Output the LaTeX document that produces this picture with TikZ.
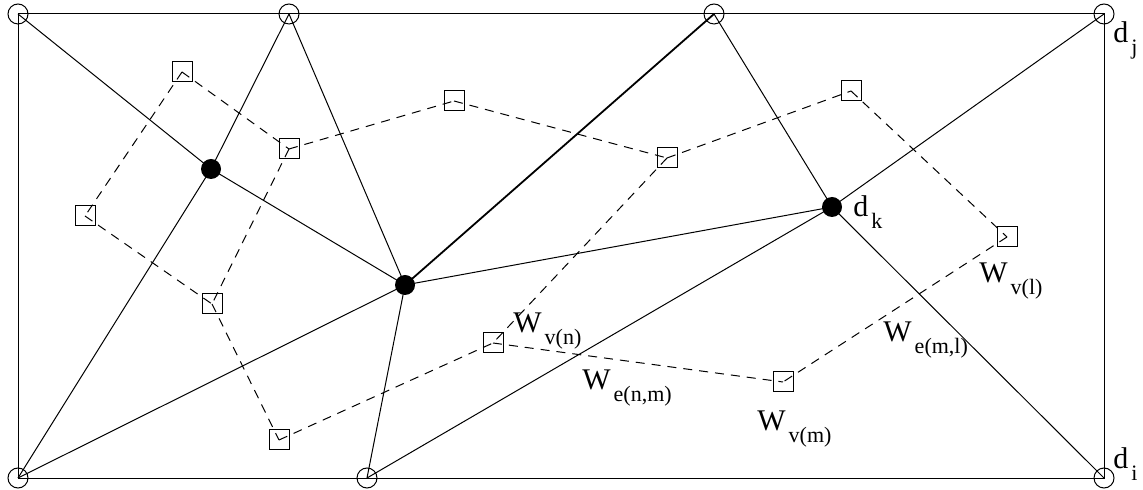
\documentclass[tikz,border=0pt]{standalone}
\usepackage{fontspec}
\setmainfont{Liberation Serif}
\usepackage{tikz}
\usetikzlibrary{positioning}
\newcommand{\lowsub}[1]{\hspace{1.5pt}\raisebox{-6pt}{\fontsize{11pt}{11pt}\selectfont #1}}
\tikzset{
  bnd/.style={draw, circle, minimum size=10pt, inner sep=0pt, line width=0.5pt},
  inner/.style={fill=black, circle, minimum size=10pt, inner sep=0pt},
  dual/.style={draw, rectangle, minimum size=10pt, inner sep=0pt, line width=0.5pt},
  edge/.style={line width=0.5pt},
  dedge/.style={line width=0.5pt, dash pattern=on 4.5pt off 3.5pt},
  lbl/.style={anchor=base west, inner sep=0pt, font=\fontsize{15pt}{15pt}\selectfont},
}
\begin{document}
\begin{tikzpicture}[x=0.5pt, y=-0.5pt]
  \useasboundingbox (0,0) rectangle (1143,490);
  % boundary vertices
  \node[bnd] (tl) at (18,14) {};
  \node[bnd] (t1) at (289,14) {};
  \node[bnd] (t2) at (714,14) {};
  \node[bnd] (tr) at (1104,14) {};
  \node[bnd] (bl) at (18,478) {};
  \node[bnd] (bm) at (367,478) {};
  \node[bnd] (br) at (1104,478) {};
  % interior vertices
  \node[inner] (na) at (211,169) {};
  \node[inner] (nb) at (405,285) {};
  \node[inner] (nc) at (832,207) {};
  % triangle weights
  \node[dual] (w1) at (182,72) {};
  \node[dual] (w2) at (289,149) {};
  \node[dual] (w3) at (454,101) {};
  \node[dual] (w4) at (667,158) {};
  \node[dual] (w5) at (851,91) {};
  \node[dual] (w6) at (1007,237) {};
  \node[dual] (w7) at (85,216) {};
  \node[dual] (w8) at (212,304) {};
  \node[dual] (w9) at (279,440) {};
  \node[dual] (w10) at (493,343) {};
  \node[dual] (w11) at (783,382) {};
  % domain border
  \draw[edge] (tl.center) -- (tr.center) -- (br.center) -- (bl.center) -- cycle;
  % triangulation
  \draw[edge] (tl.center) -- (na.center);
  \draw[edge] (t1.center) -- (na.center);
  \draw[edge] (na.center) -- (bl.center);
  \draw[edge] (na.center) -- (nb.center);
  \draw[edge] (t1.center) -- (nb.center);
  \draw[line width=0.9pt] (t2.center) -- (nb.center);
  \draw[edge] (t2.center) -- (nc.center);
  \draw[edge] (nb.center) -- (nc.center);
  \draw[edge] (nb.center) -- (bl.center);
  \draw[edge] (nb.center) -- (bm.center);
  \draw[edge] (bm.center) -- (nc.center);
  \draw[edge] (nc.center) -- (tr.center);
  \draw[edge] (nc.center) -- (br.center);
  % dual graph
  \draw[dedge] (w1.center) -- (w2.center);
  \draw[dedge] (w1.center) -- (w7.center);
  \draw[dedge] (w2.center) -- (w3.center);
  \draw[dedge] (w2.center) -- (w8.center);
  \draw[dedge] (w3.center) -- (w4.center);
  \draw[dedge] (w4.center) -- (w5.center);
  \draw[dedge] (w4.center) -- (w10.center);
  \draw[dedge] (w5.center) -- (w6.center);
  \draw[dedge] (w6.center) -- (w11.center);
  \draw[dedge] (w7.center) -- (w8.center);
  \draw[dedge] (w8.center) -- (w9.center);
  \draw[dedge] (w9.center) -- (w10.center);
  \draw[dedge] (w10.center) -- (w11.center);
  % labels
  \node[lbl] (ldj) at (1113,43) {d\lowsub{j}};
  \node[lbl] (ldk) at (853,217) {d\lowsub{k}};
  \node[lbl] (ldi) at (1113,468) {d\lowsub{i}};
  \node[lbl] (lvn) at (513,333) {W\lowsub{v(n)}};
  \node[lbl] (lenm) at (582,390) {W\lowsub{e(n,m)}};
  \node[lbl] (lvm) at (757,430) {W\lowsub{v(m)}};
  \node[lbl] (lvl) at (979,283) {W\lowsub{v(l)}};
  \node[lbl] (leml) at (883,342) {W\lowsub{e(m,l)}};
\end{tikzpicture}
\end{document}
